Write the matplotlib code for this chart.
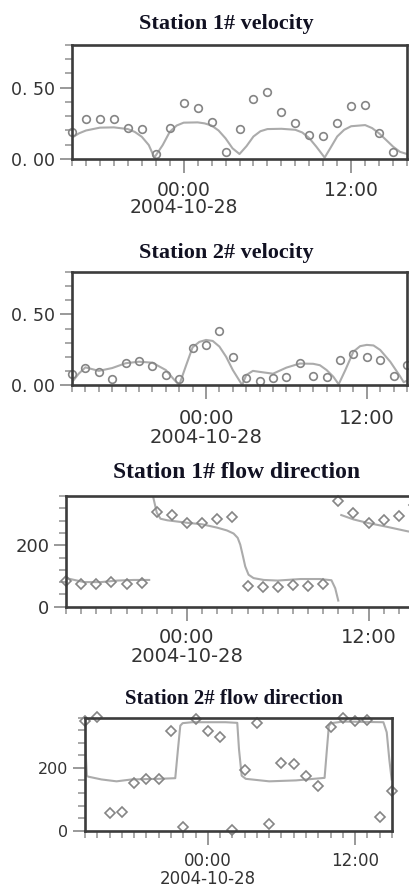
import matplotlib
matplotlib.use("Agg")
import numpy as np
import matplotlib.pyplot as plt
from matplotlib.ticker import FixedLocator, MultipleLocator

# hours relative to 2004-10-28 00:00
v1_hours = list(range(-8, 16))
v1_obs = [0.19, 0.28, 0.28, 0.28, 0.22, 0.21, 0.035, 0.22, 0.39, 0.36, 0.26, 0.05,
          0.21, 0.42, 0.47, 0.33, 0.25, 0.17, 0.16, 0.25, 0.37, 0.38, 0.18, 0.05]
v1_fit_hours = [-8, -7.5, -7, -6, -5, -4, -3.5, -3, -2.5, -2.1, -1.5, -1, -0.5, 0, 1, 1.5,
                2, 2.5, 3, 3.5, 4, 4.5, 5, 5.5, 6, 7, 8, 8.5, 9, 9.5, 10.1, 10.5, 11, 11.5,
                12, 13, 13.5, 14, 14.5, 15, 15.5, 16]
v1_fit = [0.15, 0.18, 0.20, 0.22, 0.222, 0.21, 0.19, 0.156, 0.098, 0.01, 0.098, 0.19, 0.235,
          0.255, 0.257, 0.25, 0.235, 0.2, 0.145, 0.075, 0.035, 0.09, 0.158, 0.195, 0.21, 0.212,
          0.205, 0.186, 0.146, 0.087, 0.01, 0.075, 0.158, 0.205, 0.23, 0.238, 0.217, 0.18,
          0.134, 0.087, 0.05, 0.035]

v2_hours = list(range(-10, 16))
v2_obs = [0.077, 0.123, 0.095, 0.040, 0.156, 0.167, 0.133, 0.074, 0.040, 0.260, 0.284,
          0.384, 0.195, 0.049, 0.028, 0.051, 0.058, 0.157, 0.064, 0.054, 0.18, 0.22, 0.195,
          0.18, 0.064, 0.142]
v2_fit_hours = [-10, -9.5, -9, -8, -7, -6, -5, -4, -3, -2.4, -2.0, -1.5, -1, -0.5, 0, 0.5, 1,
                1.5, 2, 2.5, 2.7, 3, 3.5, 4, 5, 6, 7, 8, 8.5, 9, 9.5, 9.9, 10.4, 11, 11.5, 12,
                12.5, 13, 13.75, 14.5, 14.75, 15]
v2_fit = [0.02, 0.08, 0.125, 0.10, 0.12, 0.154, 0.165, 0.158, 0.106, 0.04, 0.0, 0.135, 0.267,
          0.305, 0.319, 0.312, 0.272, 0.2, 0.106, 0.03, 0.0, 0.07, 0.1, 0.093, 0.08, 0.123,
          0.152, 0.15, 0.14, 0.106, 0.059, 0.005, 0.106, 0.236, 0.275, 0.284, 0.28, 0.248,
          0.165, 0.059, 0.02, 0.03]

d1_hours = list(range(-8, 16))
d1_obs = [82, 75, 75, 79, 74, 77, 308, 297, 271, 273, 284, 293,
          68, 63, 63, 71, 67, 74, 345, 304, 273, 282, 295, 330]
d1_fit_hours = [-8, -6.8, -5.7, -4.6, -3.5, -2.5, np.nan, -2.25, -2.0, -1.75, -1.3, 0, 1, 2,
                2.64, 3.08, 3.35, 3.52, 3.7, 3.85, 4.07, 4.4, 5.07, 6, 7.5, 8.8, 9.55, 9.8,
                10.0, np.nan, 10.2, 11, 11.9, 13.2, 14.6, 16]
d1_fit = [93, 80, 80, 85, 87, 87, np.nan, 360, 306, 286, 281, 273, 268, 257, 248, 238, 224,
          202, 164, 131, 104, 93, 87, 85, 90, 90, 86, 60, 20, np.nan, 298, 284, 273, 260,
          245, 235]

d2_hours = list(range(-10, 16))
d2_obs = [350, 362, 56, 59, 152, 163, 163, 316, 13, 355, 318, 297, 2, 193, 342, 21,
          214, 211, 173, 141, 329, 358, 350, 352, 45, 125]
d2_fit_hours = [-10, -9.85, -9.75, -8.66, -7.43, -6.2, -4.0, -2.65, -2.43, -2.24, -2.05,
                -1.28, 1.45, 2.4, 2.54, 2.76, 3.09, 5.0, 7.19, 9.51, 9.7, 9.86, 10.05, 11.0,
                14.3, 14.57, 14.78, 14.97]
d2_fit = [290, 175, 172, 163, 157, 163, 165, 167, 259, 334, 342, 345, 345, 343, 259, 175,
          165, 157, 160, 168, 259, 334, 342, 347, 345, 313, 227, 163]

titles = ["Station 1# velocity", "Station 2# velocity",
          "Station 1# flow direction", "Station 2# flow direction"]
x_ticks = [0, 12]
x_ticklabels = ["00:00\n2004-10-28", "12:00"]

W, H = 409, 888
fig = plt.figure(figsize=(W / 100, H / 100), dpi=100)

LINE_C = "#ababab"
MARK_C = "#858585"
TXT_C = "#333333"


def make_axes(box):
    l, t, r, b = box
    return fig.add_axes([l / W, 1 - b / H, (r - l) / W, (b - t) / H])


def style_axes(ax, xlim, ylim, yticks, yticklabels, yminor, ysize, xsize, lsp, xpad):
    ax.set_xlim(*xlim)
    ax.set_ylim(*ylim)
    ax.xaxis.set_major_locator(FixedLocator(x_ticks))
    ax.xaxis.set_minor_locator(MultipleLocator(1))
    ax.set_xticklabels(x_ticklabels, fontsize=xsize, color=TXT_C, linespacing=lsp)
    ax.yaxis.set_major_locator(FixedLocator(yticks))
    ax.yaxis.set_minor_locator(MultipleLocator(yminor))
    ax.set_yticklabels(yticklabels, fontsize=ysize, color=TXT_C)
    ax.tick_params(axis="x", which="major", direction="out", length=10, width=1.2,
                   color="#888888", pad=xpad)
    ax.tick_params(axis="y", which="major", direction="out", length=9, width=1.2,
                   color="#888888", pad=3)
    ax.tick_params(which="minor", direction="out", length=5, width=1.2, color="#999999")
    for s in ax.spines.values():
        s.set_linewidth(1.9)
        s.set_color("#3c3c3c")


# velocity panels
ax1 = make_axes((72, 45, 407, 159))
ax1.plot(v1_fit_hours, v1_fit, color=LINE_C, lw=1.5)
ax1.plot(v1_hours, v1_obs, "o", ms=5.5, mfc="none", mec=MARK_C, mew=1.2, clip_on=False)
style_axes(ax1, (-8, 16), (0, 0.8), [0, 0.5], ["0. 00", "0. 50"], 0.1, 12.5, 13.5, 0.85, 6)

ax2 = make_axes((72, 272, 407, 385))
ax2.plot(v2_fit_hours, v2_fit, color=LINE_C, lw=1.5)
ax2.plot(v2_hours, v2_obs, "o", ms=5.5, mfc="none", mec=MARK_C, mew=1.2, clip_on=False)
style_axes(ax2, (-10, 15), (0, 0.8), [0, 0.5], ["0. 00", "0. 50"], 0.1, 12.5, 14, 1.05, 7)

# direction panels
ax3 = make_axes((66, 496, 429, 606.7))
ax3.plot(d1_fit_hours, d1_fit, color=LINE_C, lw=1.5)
ax3.plot(d1_hours, d1_obs, "D", ms=5, mfc="none", mec=MARK_C, mew=1.2, clip_on=False)
style_axes(ax3, (-8, 16), (0, 360), [0, 200], ["0", "200"], 40, 13, 14, 1.0, 5)

ax4 = make_axes((85, 717.5, 392, 830.7))
ax4.plot(d2_fit_hours, d2_fit, color=LINE_C, lw=1.5)
ax4.plot(d2_hours, d2_obs, "D", ms=5, mfc="none", mec=MARK_C, mew=1.2, clip_on=False)
style_axes(ax4, (-10, 15), (0, 360), [0, 200], ["0", "200"], 40, 11.5, 12, 1.05, 5)

title_pos = [(226, 24, 16), (226, 253, 16), (236.7, 472, 17), (234, 699, 15)]
for text, (x, y, size) in zip(titles, title_pos):
    fig.text(x / W, 1 - y / H, text, ha="center", va="center", fontsize=size,
             fontweight="bold", family="Liberation Serif", color="#111122")

fig.savefig("out.png", dpi=100)
